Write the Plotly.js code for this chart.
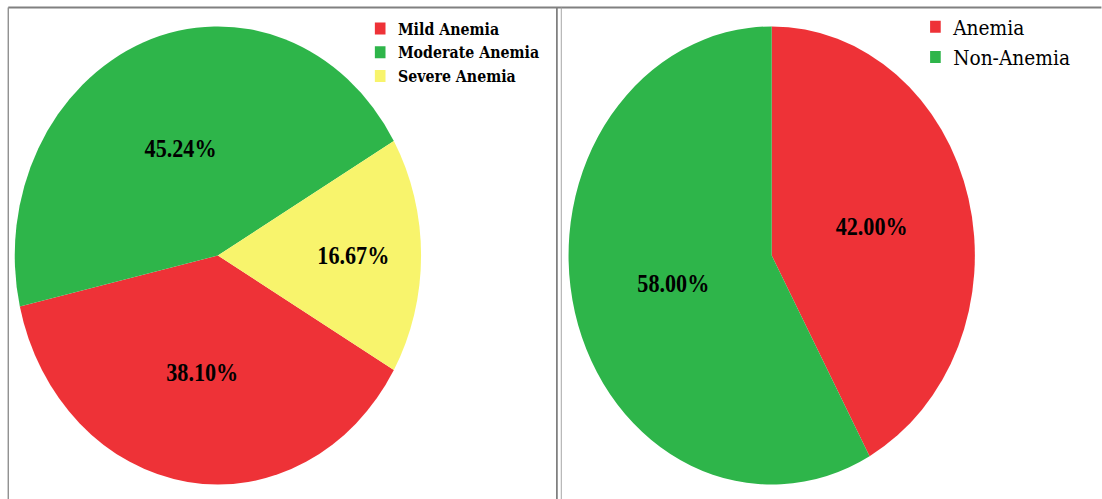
<!DOCTYPE html>
<html>
<head>
<meta charset="utf-8">
<script src="https://cdn.plot.ly/plotly-3.0.1.min.js"></script>
<style>
  html, body { margin: 0; padding: 0; background: #ffffff; overflow: hidden; width: 1102px; height: 499px; }
  #chart { transform-origin: 0 0; }
</style>
</head>
<body>
<div id="chart"></div>
<script>
// Data
const severityLabels = ["Mild Anemia", "Moderate Anemia", "Severe Anemia"];
const severityValues = [38.10, 45.24, 16.67];
const severityColors = ["#EE3237", "#2EB54A", "#F8F46C"];

const statusLabels = ["Anemia", "Non-Anemia"];
const statusValues = [42.00, 58.00];
const statusColors = ["#EE3237", "#2EB54A"];

// The reference picture is horizontally compressed; draw wider, then compress.
const SX = 0.887;
const W = 1102 / SX, H = 499;
const el = document.getElementById('chart');
el.style.width = W + 'px';
el.style.height = H + 'px';
el.style.transform = 'scaleX(' + SX + ')';

const labelFont = { family: "Liberation Serif", size: 25, color: "#000000", weight: "bold" };

const traces = [
  {
    type: 'pie',
    labels: severityLabels,
    values: severityValues,
    marker: { colors: severityColors, line: { width: 0 } },
    sort: false,
    direction: 'clockwise',
    rotation: 120,
    texttemplate: '%{value:.2f}%',
    textposition: 'inside',
    insidetextorientation: 'horizontal',
    textfont: labelFont,
    hoverinfo: 'label+percent',
    domain: { x: [0.0, 0.3956], y: [0.029, 0.947] },
    legend: 'legend'
  },
  {
    type: 'pie',
    labels: statusLabels,
    values: statusValues,
    marker: { colors: statusColors, line: { width: 0 } },
    sort: false,
    direction: 'clockwise',
    rotation: 0,
    texttemplate: '%{value:.2f}%',
    textposition: 'inside',
    insidetextorientation: 'horizontal',
    textfont: labelFont,
    hoverinfo: 'label+percent',
    domain: { x: [0.50, 0.901], y: [0.029, 0.947] },
    legend: 'legend2'
  }
];

const border = { color: '#808080', width: 2 };
const layout = {
  width: W,
  height: H,
  margin: { l: 0, r: 0, t: 0, b: 0 },
  paper_bgcolor: '#ffffff',
  showlegend: true,
  legend: {
    x: 0.329, y: 0.977, xanchor: 'left', yanchor: 'top',
    font: { family: "DejaVu Serif", size: 16, color: "#000000", weight: "bold" },
    bgcolor: 'rgba(0,0,0,0)', itemclick: false, itemdoubleclick: false,
    tracegroupgap: 0
  },
  legend2: {
    x: 0.833, y: 0.987, xanchor: 'left', yanchor: 'top',
    font: { family: "DejaVu Serif", size: 21, color: "#000000" },
    bgcolor: 'rgba(0,0,0,0)', itemclick: false, itemdoubleclick: false
  },
  shapes: [
    { type: 'line', xref: 'paper', yref: 'paper', x0: 0.0075, x1: 1, y0: 0.985, y1: 0.985, line: border },
    { type: 'line', xref: 'paper', yref: 'paper', x0: 0.0075, x1: 0.0075, y0: 0, y1: 0.985, line: { color: '#8a8a8a', width: 1.5 } },
    { type: 'line', xref: 'paper', yref: 'paper', x0: 0.5055, x1: 0.5055, y0: 0, y1: 0.985, line: { color: '#808080', width: 2 } },
    { type: 'line', xref: 'paper', yref: 'paper', x0: 0.5095, x1: 0.5095, y0: 0, y1: 0.985, line: { color: '#a0a0a0', width: 1 } }
  ]
};

Plotly.newPlot(el, traces, layout, { displayModeBar: false, staticPlot: true });
</script>
</body>
</html>
